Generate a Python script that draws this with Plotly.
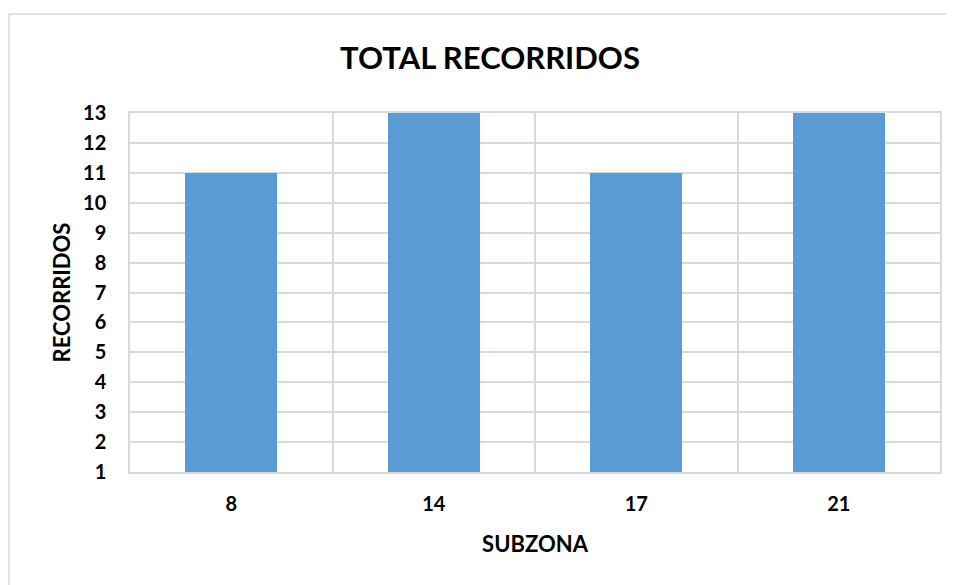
import plotly.graph_objects as go

categories = ["8", "14", "17", "21"]
recorridos = [11, 13, 11, 13]
y_ticks = list(range(1, 14))

OFF = 8  # page body margin
W, H = 954 - OFF, 585 - OFF
L, R, T, B = 130 - OFF, 14, 113 - OFF, 113

fig = go.Figure()
fig.add_trace(go.Bar(
    x=list(range(len(categories))), y=recorridos,
    marker=dict(color="#5B9BD5", line=dict(width=0)),
    width=0.455, hoverinfo="x+y",
))
# invisible trace on overlay axis for category-boundary gridlines
fig.add_trace(go.Scatter(x=[-0.5, len(categories) - 0.5], y=[1, 1], xaxis="x2",
                         mode="markers", marker=dict(opacity=0), hoverinfo="skip",
                         showlegend=False))

font_family = "Lato, 'Open Sans', sans-serif"
grid = "#D9D9D9"
pw, ph = W - L - R, H - T - B
fig.update_layout(
    width=W, height=H,
    margin=dict(l=L, r=R, t=T, b=B),
    paper_bgcolor="white", plot_bgcolor="white",
    showlegend=False,
    bargap=0,
    title=dict(text="<b>TOTAL RECORRIDOS</b>", x=(490 - OFF) / W, xanchor="center",
               y=1 - (58 - OFF) / H, yanchor="middle",
               font=dict(family=font_family, size=31, color="black")),
    xaxis=dict(
        range=[-0.5, len(categories) - 0.5],
        tickvals=list(range(len(categories))), ticktext=[f"<b>{c}</b>" for c in categories],
        showgrid=False, zeroline=False, showline=True, linecolor=grid, linewidth=1.5,
        mirror=True, ticks="",
        tickfont=dict(family=font_family, size=20, color="black"),
        title=dict(text="<b>SUBZONA</b>", font=dict(family=font_family, size=22, color="black"),
                   standoff=23),
        ticklabelstandoff=13,
    ),
    xaxis2=dict(
        overlaying="x", range=[-0.5, len(categories) - 0.5],
        tickvals=[i - 0.5 for i in range(len(categories) + 1)],
        showticklabels=False, showgrid=True, gridcolor=grid, gridwidth=1.5,
        zeroline=False, showline=False, ticks="",
    ),
    yaxis=dict(
        range=[1, 13], tickvals=y_ticks, ticktext=[f"<b>{v}</b>" for v in y_ticks],
        showgrid=True, gridcolor=grid, gridwidth=1.5, zeroline=False,
        showline=True, linecolor=grid, linewidth=1.5, mirror=True, ticks="",
        tickfont=dict(family=font_family, size=20, color="black"),
        ticklabelstandoff=18,
        title=dict(text="<b>RECORRIDOS</b>", font=dict(family=font_family, size=22, color="black"),
                   standoff=6),
    ),
    shapes=[dict(type="rect", xref="paper", yref="paper",
                 x0=(1 - L) / pw, x1=(W + 5 - L) / pw,
                 y0=(-B - 5) / ph, y1=(H - B - (14 - OFF)) / ph,
                 line=dict(color=grid, width=1.5), fillcolor="rgba(0,0,0,0)", layer="below")],
)

fig.write_html("out.html")
